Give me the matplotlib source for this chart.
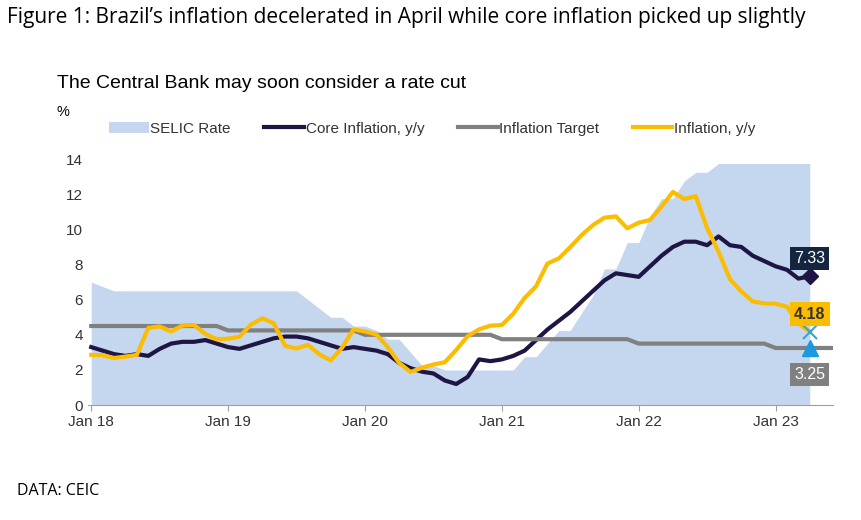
import matplotlib
matplotlib.use("Agg")
import matplotlib.pyplot as plt
import numpy as np

selic = [7.0,6.75,6.5,6.5,6.5,6.5,6.5,6.5,6.5,6.5,6.5,6.5,
         6.5,6.5,6.5,6.5,6.5,6.5,6.5,6.0,5.5,5.0,5.0,4.5,
         4.5,4.25,3.75,3.75,3.0,2.25,2.25,2.0,2.0,2.0,2.0,2.0,
         2.0,2.0,2.75,2.75,3.5,4.25,4.25,5.25,6.25,7.75,7.75,9.25,
         9.25,10.75,11.75,11.75,12.75,13.25,13.25,13.75,13.75,13.75,13.75,13.75,
         13.75,13.75,13.75,13.75]
inflation = [2.86,2.84,2.68,2.76,2.86,4.39,4.48,4.19,4.53,4.56,4.05,3.75,
             3.78,3.89,4.58,4.94,4.66,3.37,3.22,3.43,2.89,2.54,3.27,4.31,
             4.19,4.01,3.30,2.40,1.88,2.13,2.31,2.44,3.14,3.92,4.31,4.52,
             4.56,5.20,6.10,6.76,8.06,8.35,8.99,9.68,10.25,10.67,10.74,10.06,
             10.38,10.54,11.30,12.13,11.73,11.89,10.07,8.73,7.17,6.47,5.90,5.79,
             5.77,5.60,4.65,4.18]
core = [3.3,3.1,2.9,2.8,2.9,2.8,3.2,3.5,3.6,3.6,3.7,3.5,
        3.3,3.2,3.4,3.6,3.8,3.9,3.9,3.8,3.6,3.4,3.2,3.3,
        3.2,3.1,2.9,2.4,2.1,1.9,1.8,1.4,1.2,1.6,2.6,2.5,
        2.6,2.8,3.1,3.7,4.3,4.8,5.3,5.9,6.5,7.1,7.5,7.4,
        7.3,7.9,8.5,9.0,9.3,9.3,9.1,9.6,9.1,9.0,8.5,8.2,
        7.9,7.7,7.2,7.33]
target = [4.5]*12 + [4.25]*12 + [4.0]*12 + [3.75]*12 + [3.5]*12 + [3.25]*6
tick_labels = ["Jan 18","Jan 19","Jan 20","Jan 21","Jan 22","Jan 23"]

fig = plt.figure(figsize=(8.61,5.2), dpi=100)
ax = fig.add_axes([0.102, 0.221, 0.865, 0.473])
m = np.arange(len(selic))
ax.fill_between(m, 0, selic, color="#c5d7ef", lw=0, label="SELIC Rate")
ax.plot(m, core, color="#1e1545", lw=3, label="Core Inflation, y/y", solid_joinstyle="round")
ax.plot(np.arange(len(target)), target, color="#808080", lw=3, label="Inflation Target")
ax.plot(m, inflation, color="#fcbc00", lw=3, label="Inflation, y/y", solid_joinstyle="round")
last = len(m)-1
ax.plot(last, core[-1], marker="D", color="#1e1545", ms=8)
ax.plot(last, inflation[-1], marker="x", color="#3aa6d0", ms=10, mew=1.5)
ax.plot(last, 3.25, marker="^", color="#1a9ae0", ms=11)
ax.text(last, core[-1]+1.0, f"{core[-1]:.2f}", ha="center", va="center", color="white", fontsize=11.5,
        family="Liberation Sans", bbox=dict(fc="#14253f", ec="none", pad=3))
ax.text(last, inflation[-1]+1.0, f"{inflation[-1]:.2f}", ha="center", va="center", color="#333333", fontsize=11.5,
        family="Liberation Sans", fontweight="bold", bbox=dict(fc="#fcbc00", ec="none", pad=3))
ax.text(last, 1.75, "3.25", ha="center", va="center", color="white", fontsize=11.5,
        family="Liberation Sans", bbox=dict(fc="#808080", ec="none", pad=3))
ax.set_xlim(-0.3, 65)
ax.set_ylim(0, 14)
ax.set_yticks(range(0,15,2))
ax.set_xticks(range(0,61,12))
ax.set_xticklabels(tick_labels)
for s in ["top","right","left"]:
    ax.spines[s].set_visible(False)
ax.spines["bottom"].set_color("#a0a0a0")
ax.tick_params(axis="y", length=0, labelsize=11, colors="#333333")
ax.tick_params(axis="x", length=4, color="#a0a0a0", labelsize=11, colors="#333333")
for t in ax.get_xticklabels()+ax.get_yticklabels():
    t.set_family("Liberation Sans")
leg = ax.legend(loc="lower left", bbox_to_anchor=(0.01, 1.04), ncol=4, frameon=False,
                prop={"family":"Liberation Sans","size":11}, handlelength=2.6, handletextpad=0.1,
                columnspacing=2.2)
for t in leg.get_texts():
    t.set_color("#333333")
fig.text(0.008, 0.967, "Figure 1: Brazil’s inflation decelerated in April while core inflation picked up slightly",
         fontsize=15, family="Open Sans", va="center")
fig.text(0.066, 0.84, "The Central Bank may soon consider a rate cut", fontsize=14, family="Liberation Sans", va="center")
fig.text(0.066, 0.785, "%", fontsize=10.5, family="Liberation Sans", va="center")
fig.text(0.02, 0.055, "DATA: CEIC", fontsize=11.5, family="Open Sans", va="center")
fig.savefig("out.png", dpi=100)
